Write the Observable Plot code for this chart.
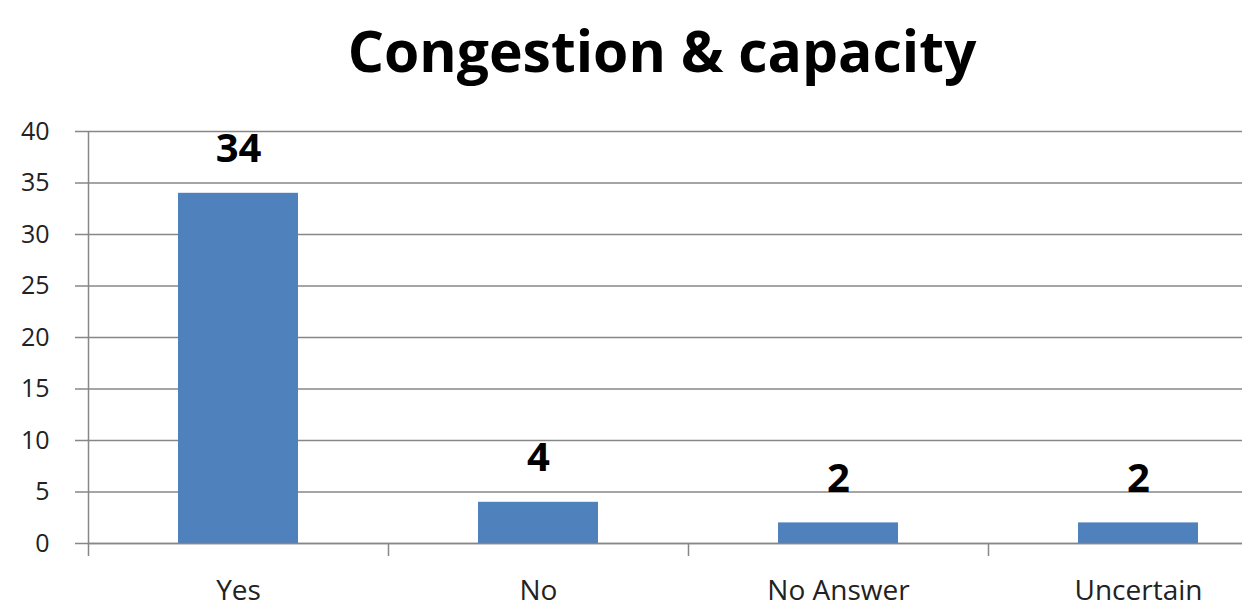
<!DOCTYPE html>
<html>
<head>
<meta charset="utf-8">
<script src="https://cdn.jsdelivr.net/npm/d3@7"></script>
<script src="https://cdn.jsdelivr.net/npm/@observablehq/plot@0.6"></script>
<style>
  html, body { margin: 0; padding: 0; background: #fff; overflow: hidden; width: 1242px; height: 614px; }
  #title { position: absolute; left: 0; top: 0; width: 1324px; height: 100px; text-align: center;
    font-family: "Open Sans", sans-serif; font-weight: 700; font-size: 57px; line-height: 100px; color: #000; white-space: nowrap; }
  #chart { position: absolute; left: 0; top: 100px; width: 1290px; }
  #chart svg { max-width: none !important; }
</style>
</head>
<body>
<div id="title">Congestion &amp; capacity</div>
<div id="chart"></div>
<script>
const categories = ["Yes", "No", "No Answer", "Uncertain"];
const values = [34, 4, 2, 2];
const yTicks = [0, 5, 10, 15, 20, 25, 30, 35, 40];

const data = categories.map((c, i) => ({category: c, value: values[i]}));
const grid = "#878787";
const font = "'Open Sans', sans-serif";

const chart = Plot.plot({
  width: 1290,
  height: 514,
  marginLeft: 88,
  marginRight: 2,
  marginTop: 31,
  marginBottom: 71,
  style: {fontFamily: font, background: "#fff", maxWidth: "none"},
  x: {domain: categories, paddingInner: 0.6, paddingOuter: 0.3, label: null},
  y: {domain: [0, 40], ticks: yTicks, label: null},
  marks: [
    Plot.ruleY(yTicks, {stroke: grid, strokeWidth: 1.5}),
    Plot.axisY({ticks: yTicks, tickSize: 13, tickPadding: 26, stroke: grid, strokeWidth: 1.5, fontSize: 25, fill: "#222", label: null}),
    Plot.ruleX([categories[0]], {x: d => d, dx: -150, y1: 40, y2: 0, stroke: grid, strokeWidth: 1.5}),
    Plot.ruleX(categories, {x: d => d, dx: -150, y1: 0, y2: 0, insetBottom: -13, stroke: grid, strokeWidth: 1.5}),
    Plot.barY(data, {x: "category", y: "value", fill: "#4F81BD"}),
    Plot.text(data, {x: "category", y: "value", text: d => String(d.value), lineAnchor: "bottom", dy: -31,
      fontSize: 40, fontWeight: "bold", fill: "#000"}),
    Plot.axisX({tickSize: 0, tickPadding: 37, fontSize: 28, fill: "#222", label: null}),
    Plot.ruleY([0], {stroke: grid, strokeWidth: 1.5})
  ]
});
document.getElementById("chart").appendChild(chart);
</script>
</body>
</html>
